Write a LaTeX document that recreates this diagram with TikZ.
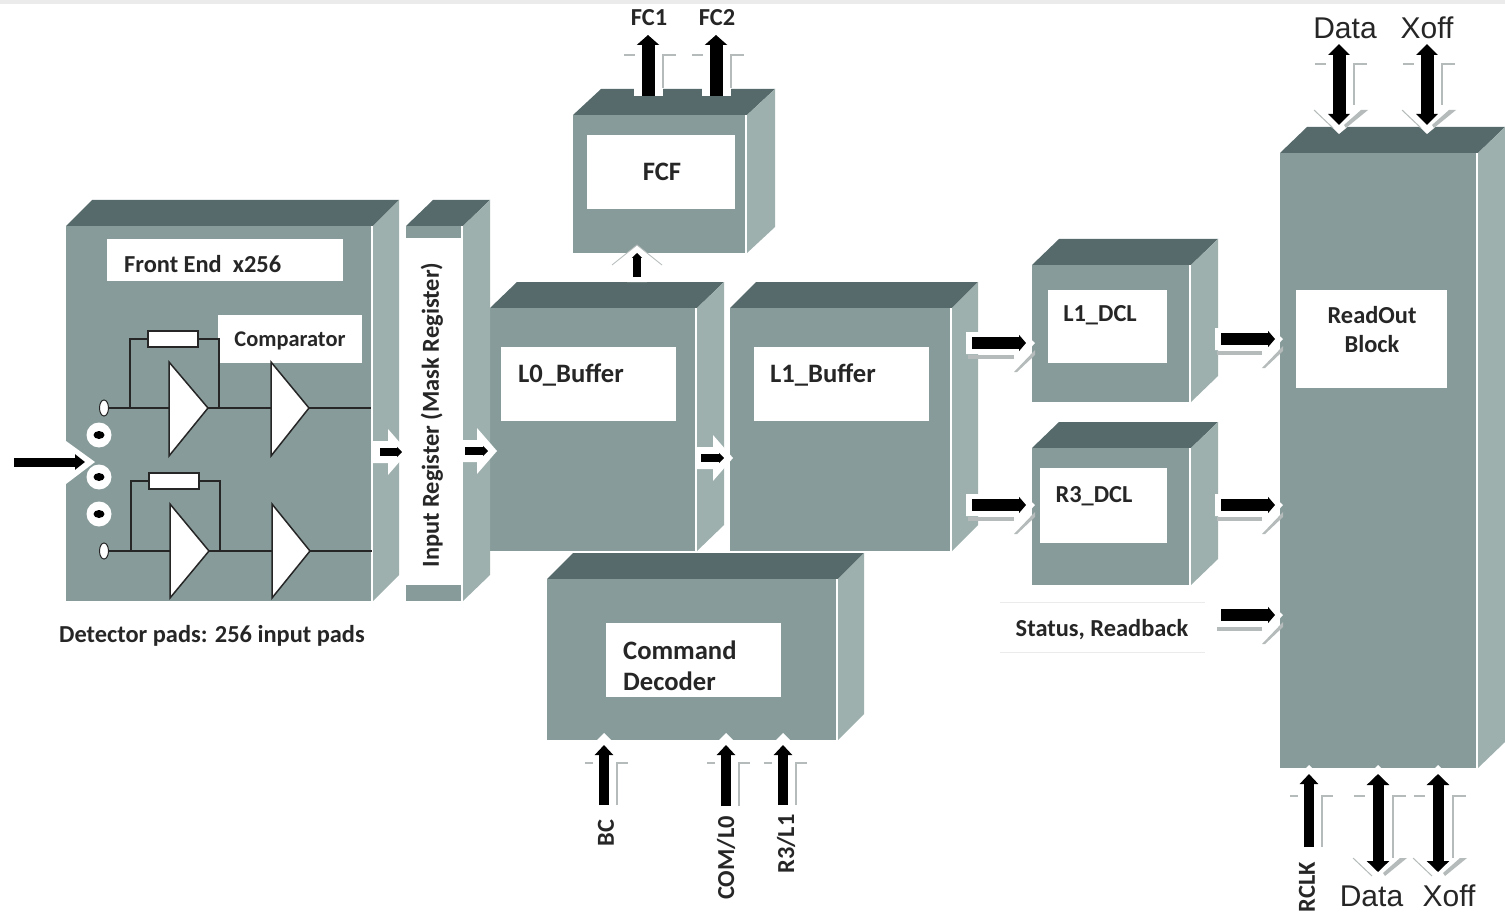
\documentclass[tikz,border=0pt]{standalone}
\usepackage{fontspec}
\setmainfont{Carlito}
\newfontfamily\arialfont{Liberation Sans}
\usetikzlibrary{arrows.meta,shapes.geometric}
\definecolor{frontc}{HTML}{879C9A}
\definecolor{topc}{HTML}{566A6B}
\definecolor{sidec}{HTML}{9DB0AE}
\definecolor{shadec}{HTML}{B4BBBA}
\tikzset{
  x=1pt,y=-1pt,
  frontbox/.style={fill=frontc,draw=none,inner sep=0pt,outer sep=0pt,anchor=north west},
  whitebox/.style={fill=white,draw=none,inner sep=0pt,outer sep=0pt,anchor=north west},
  lbl/.style={inner sep=0pt,font=\bfseries\fontsize{24.4}{27}\selectfont,text=black!85},
  lblbig/.style={inner sep=0pt,font=\bfseries\fontsize{26.6}{29}\selectfont,text=black!85},
  biglbl/.style={inner sep=0pt,font=\arialfont\fontsize{30}{32}\selectfont,text=black!85},
  sm/.style={line width=1.5pt,draw=black!85},
  tri/.style={fill=white,draw=black!85,line width=1.5pt,line join=miter},
  sig/.style={line width=9.5pt,draw=black,-{Triangle[length=10pt,width=18pt]}},
  fatsig/.style={line width=13pt,draw=black,-{Triangle[length=10pt,width=22pt]}},
  dbl/.style={line width=13pt,draw=black,{Triangle[length=11pt,width=21pt]}-{Triangle[length=11pt,width=21pt]}},
  dblb/.style={line width=11pt,draw=black,{Triangle[length=11pt,width=22pt]}-{Triangle[length=11pt,width=22pt]}},
  flow/.style={line width=12pt,draw=black,-{Triangle[length=7pt,width=16pt]}},
  inflow/.style={line width=9pt,draw=black,-{Triangle[length=10pt,width=15pt]}},
  smallflow/.style={line width=8pt,draw=black,-{Triangle[length=5pt,width=10pt]}},
  shade/.style={draw=shadec,line width=2.5pt},
  shadeb/.style={draw=shadec,line width=4pt},
}
% name, x1,y1,x2,y2, depth
\newcommand{\cube}[6]{%
  \fill[topc] (#2,#3) -- (#2+#6,#3-26) -- (#4+#6+2,#3-26) -- (#4+2,#3) -- cycle;
  \fill[sidec] (#4+2,#3) -- (#4+#6+2,#3-26) -- (#4+#6+2,#5-26) -- (#4+2,#5) -- cycle;
  \node[frontbox,minimum width={(#4-#2)*1pt},minimum height={(#5-#3)*1pt}] (#1) at (#2,#3) {};
  \fill[white] (#4,#3) rectangle (#4+2,#5);
}
\newcommand{\wbox}[5]{\node[whitebox,minimum width={(#4-#2)*1pt},minimum height={(#5-#3)*1pt}] (#1) at (#2,#3) {};}
% right-pointing hollow arrow: x start, x tip, y
\newcommand{\hollowR}[3]{%
  \fill[white] (#1,#3-11) -- (#2-20,#3-11) -- (#2-20,#3-18) -- (#2,#3) -- (#2-20,#3+22) -- (#2-20,#3+11) -- (#1,#3+11) -- cycle;
  \draw[shadeb] (#1+2,#3+14) -- (#2-21,#3+14);
  \fill[shadec] (#2-21,#3+29) -- (#2,#3+7) -- (#2,#3+12) -- (#2-18,#3+29) -- cycle;
}
% small arrow with white head, no shading
\newcommand{\smallR}[3]{%
  \fill[white] (#1,#3-11) -- (#2-20,#3-11) -- (#2-20,#3-23) -- (#2,#3) -- (#2-20,#3+23) -- (#2-20,#3+11) -- (#1,#3+11) -- cycle;
}
% vertical L-shaped ticks: x of arrow, y tick, y foot
\newcommand{\ticks}[3]{%
  \draw[shade] (#1-19,#2) -- (#1-11,#2);
  \draw[shade] (#1+13,#3) -- (#1+13,#2) -- (#1+24,#2);
}
\newcommand{\ticksW}[3]{%
  \draw[shade] (#1-24,#2) -- (#1-13,#2);
  \draw[shade] (#1+15,#3) -- (#1+15,#2) -- (#1+28,#2);
}
% chevron pointing down at (x, y)
\newcommand{\chevD}[2]{%
  \fill[white] (#1-25,#2-24) -- (#1,#2) -- (#1+29,#2-24) -- cycle;
  \draw[shadec,line width=1pt] (#1-25,#2-24) -- (#1-6,#2-6);
  \fill[shadec] (#1+7,#2-6) -- (#1+29,#2-24) -- (#1+22,#2-24) -- (#1+5,#2-9) -- cycle;
}
% notch pointing up into the box bottom
\newcommand{\notchU}[2]{\fill[white] (#1-8,#2+8) -- (#1,#2) -- (#1+8,#2+8) -- cycle;}
\begin{document}
\begin{tikzpicture}
\useasboundingbox (0,0) rectangle (1505,912);
\fill[white] (0,0) rectangle (1505,912);
\fill[black!8] (0,0) rectangle (1505,4);
% ---------- cubes
\cube{fcf}{573}{115}{745}{253}{28}
\cube{lzero}{490}{308}{695}{551}{27}
\cube{lone}{730}{308}{950}{551}{26}
\cube{cmd}{547}{579}{836}{740}{26}
\cube{ldcl}{1032}{265}{1189}{402}{27}
\cube{rdcl}{1032}{448}{1189}{585}{27}
\cube{ro}{1280}{153}{1476}{768}{27}
\cube{fe}{66}{226}{371}{601}{26}
\cube{ireg}{406}{226}{461}{601}{27}
% ---------- white label boxes
\wbox{fcfw}{587}{135}{735}{209}
\wbox{lzerow}{501}{347}{676}{421}
\wbox{lonew}{754}{347}{929}{421}
\wbox{cmdw}{606}{623}{781}{697}
\wbox{ldclw}{1048}{290}{1167}{363}
\wbox{rdclw}{1040}{468}{1167}{543}
\wbox{row}{1296}{290}{1447}{388}
\wbox{few}{107}{239}{343}{281}
\wbox{cmpw}{218}{315}{362}{363}
\wbox{iregw}{406}{238}{461}{585}
% ---------- front-end schematic
\foreach \nm/\yy in {dotA/435,dotB/477,dotC/514}{
  \node[circle,fill=white,minimum size=25pt,inner sep=0pt] (\nm) at (99,\yy) {};
  \node[ellipse,fill=black,minimum width=11pt,minimum height=8pt,inner sep=0pt] at (\nm) {};
}
\node[ellipse,fill=white,minimum width=9pt,minimum height=16pt,inner sep=0pt,draw=black!85,line width=1pt] (padA) at (104,408) {};
\node[ellipse,fill=white,minimum width=9pt,minimum height=16pt,inner sep=0pt,draw=black!85,line width=1pt] (padB) at (104,551) {};
\coordinate (aA) at (169,408); \coordinate (aB) at (271,408); \coordinate (aE) at (371,408);
\coordinate (bA) at (170,551); \coordinate (bB) at (272,551); \coordinate (bE) at (372,551);
\draw[sm] (padA.east) -- (aA) (aB) -- (aE);
\draw[sm] (padB.east) -- (bA) (bB) -- (bE);
\draw[sm] (aA) -- (aB);
\draw[sm] (bA) -- (bB);
\draw[sm] (130,408) -- (130,339) -- (219,339) -- (219,408);
\draw[sm] (131,551) -- (131,481) -- (220,481) -- (220,551);
\node[whitebox,draw=black!85,line width=1.2pt,minimum width=50pt,minimum height=16pt] (resA) at (148,331) {};
\node[whitebox,draw=black!85,line width=1.2pt,minimum width=50pt,minimum height=16pt] (resB) at (149,473) {};
\draw[tri] (169,362) -- (208,408) -- (169,456) -- cycle;
\draw[tri] (271,362) -- (309,408) -- (271,456) -- cycle;
\draw[tri] (170,504) -- (209,551) -- (170,598) -- cycle;
\draw[tri] (272,504) -- (310,551) -- (272,598) -- cycle;
% ---------- input arrow at front end
\fill[white] (66,441) -- (95,462) -- (66,484) -- cycle;
\coordinate (inS) at (14,462); \coordinate (inE) at (85,462);
\draw[inflow] (inS) -- (inE);
% ---------- small internal arrows
\smallR{373}{408}{452}
\coordinate (aaS) at (380,452); \coordinate (aaE) at (402,452);
\draw[smallflow] (aaS) -- (aaE);
\smallR{461}{497}{451}
\coordinate (abS) at (465,451); \coordinate (abE) at (488,451);
\draw[smallflow] (abS) -- (abE);
\smallR{695}{733}{458}
\coordinate (acS) at (701,458); \coordinate (acE) at (724,458);
\draw[smallflow] (acS) -- (acE);
% small up arrow into FCF
\fill[white] (627,282) -- (627,265) -- (612,265) -- (637,245) -- (662,265) -- (647,265) -- (647,282) -- cycle;
\draw[shadec,line width=.8pt] (612,265) -- (637,245) -- (662,265);
\coordinate (adS) at (637,277); \coordinate (adE) at (637,253);
\draw[smallflow] (adS) -- (adE);
% ---------- flow arrows L1 to DCL, DCL to readout
\hollowR{966}{1035}{343}
\hollowR{966}{1035}{505}
\hollowR{1215}{1283}{339}
\hollowR{1215}{1283}{505}
\hollowR{1215}{1283}{615}
\foreach \nm/\xa/\xb/\yy in {fa/972/1026/343,fb/972/1026/505,fc/1221/1275/339,fd/1221/1275/505,ff/1221/1275/615}{
  \coordinate (\nm S) at (\xa,\yy); \coordinate (\nm E) at (\xb,\yy);
  \draw[flow] (\nm S) -- (\nm E);
}
% ---------- FC outputs
\fill[white] (634,96) rectangle (663,88);
\fill[white] (702,96) rectangle (731,88);
\ticksW{648}{55}{88}
\ticksW{716}{55}{88}
\coordinate (fcaS) at (648,96); \coordinate (fcaE) at (648,35);
\coordinate (fcbS) at (716,96); \coordinate (fcbE) at (716,35);
\draw[fatsig] (fcaS) -- (fcaE);
\draw[fatsig] (fcbS) -- (fcbE);
\node[lbl] (fcat) at (649,18) {FC1};
\node[lbl] (fcbt) at (717,18) {FC2};
% ---------- command decoder inputs
\foreach \nm/\xx/\yy in {bc/604/805,com/726/806,rl/783/805}{
  \notchU{\xx}{733}
  \ticks{\xx}{763}{\yy}
  \coordinate (\nm S) at (\xx,\yy); \coordinate (\nm E) at (\xx,745);
  \draw[sig] (\nm S) -- (\nm E);
}
\node[lbl,rotate=90] (bct) at (606,833) {BC};
\node[lbl,rotate=90] (comt) at (726,858) {COM/L0};
\node[lbl,rotate=90] (rlt) at (786,844) {R3/L1};
% ---------- readout top
\ticksW{1339}{64}{105}
\ticksW{1427}{64}{105}
\chevD{1339}{134}
\chevD{1427}{134}
\coordinate (tdS) at (1339,125); \coordinate (tdE) at (1339,44);
\coordinate (txS) at (1427,125); \coordinate (txE) at (1427,44);
\draw[dbl] (tdS) -- (tdE);
\draw[dbl] (txS) -- (txE);
\node[biglbl] (tdt) at (1345,28) {Data};
\node[biglbl] (txt) at (1427,28) {Xoff};
% ---------- readout bottom
\notchU{1309}{765}
\notchU{1378}{765}
\notchU{1438}{765}
\ticks{1309}{796}{847}
\ticksW{1378}{796}{859}
\ticksW{1438}{796}{859}
\chevD{1378}{882}
\chevD{1438}{882}
\coordinate (rcS) at (1309,847); \coordinate (rcE) at (1309,774);
\coordinate (bdS) at (1378,872); \coordinate (bdE) at (1378,774);
\coordinate (bxS) at (1438,872); \coordinate (bxE) at (1438,774);
\draw[sig] (rcS) -- (rcE);
\draw[dblb] (bdS) -- (bdE);
\draw[dblb] (bxS) -- (bxE);
\node[lbl,rotate=90] (rct) at (1307,887) {RCLK};
\node[biglbl] (bdt) at (1371.5,896) {Data};
\node[biglbl] (bxt) at (1449,896) {Xoff};
% ---------- text labels
\node[lbl,anchor=west] (fet) at (124,264) {Front End\ \ x256};
\node[lbl,font=\bfseries\fontsize{22.4}{26}\selectfont] (cmpt) at (290,341) {Comparator};
\node[lbl,anchor=west] (dett) at (59,635.5) {Detector pads: 256 input pads};
\node[lbl,rotate=90] (iregt) at (432,415) {Input Register (Mask Register)};
\node[lblbig] (fcft) at (662,172) {FCF};
\node[lblbig,anchor=west] (lzerot) at (518,375.5) {L0\_Buffer};
\node[lblbig,anchor=west] (lonet) at (770,375.5) {L1\_Buffer};
\node[lblbig,anchor=west,align=left] (cmdt) at (623,665.5) {Command\\[2pt]Decoder};
\node[lbl] (ldclt) at (1100,315.5) {L1\_DCL};
\node[lbl] (rdclt) at (1094,496.5) {R3\_DCL};
\node[lbl,align=center] (rot) at (1372,329.5) {ReadOut\\[2pt]Block};
\draw[black!8,line width=.8pt] (1000,602) -- (1205,602) (1000,652) -- (1205,652);
\node[lbl] (statt) at (1102,630) {Status, Readback};
\end{tikzpicture}
\end{document}
